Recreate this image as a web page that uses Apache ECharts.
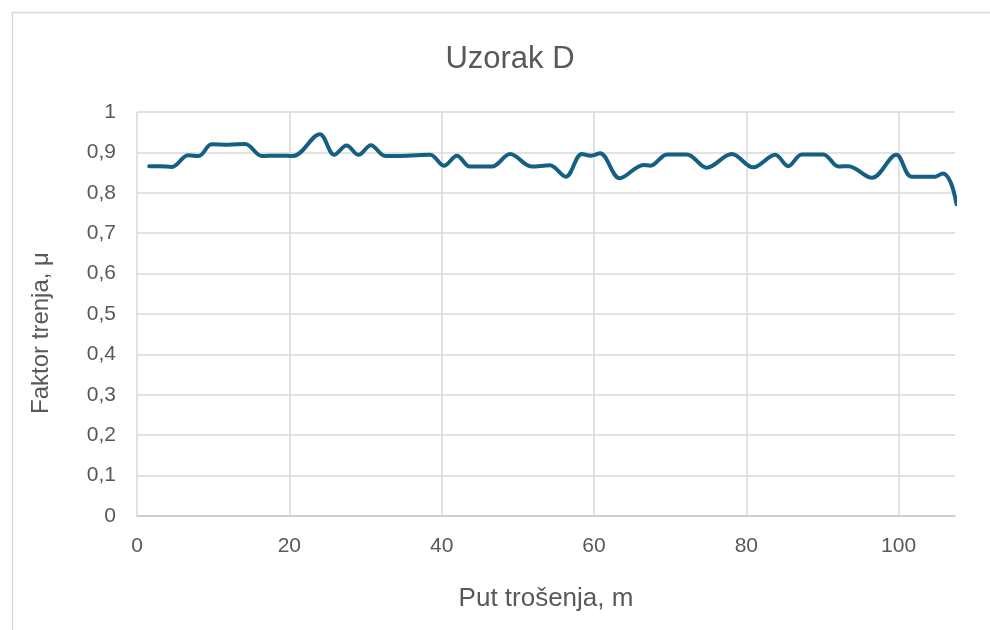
<!DOCTYPE html>
<html>
<head>
<meta charset="utf-8">
<script src="https://cdn.jsdelivr.net/npm/echarts@6/dist/echarts.min.js"></script>
<style>
  html, body { margin: 0; padding: 0; background: #ffffff; }
  #chart { width: 990px; height: 630px; }
</style>
</head>
<body>
<div id="chart"></div>
<script>
// Wear distance (m) and measured friction coefficient for sample D
const distance = [1.6, 3.0, 4.6, 6.7, 8.1, 9.8, 12.0, 14.2, 16.4, 18.5, 20.5, 24.0, 25.9, 27.5, 29.1,
  30.7, 32.6, 35.5, 38.5, 40.3, 42.0, 43.7, 46.6, 49.0, 51.8, 54.2, 56.3, 58.4, 59.6, 60.8, 63.4,
  66.5, 67.4, 69.6, 72.2, 74.8, 78.1, 80.9, 83.8, 85.5, 87.3, 90.1, 92.1, 93.4, 96.5, 99.7, 101.7,
  104.8, 105.8, 106.8, 107.6];
const friction = [0.866, 0.866, 0.864, 0.893, 0.891, 0.920, 0.919, 0.921, 0.891, 0.892, 0.891, 0.945, 0.894, 0.917, 0.894,
  0.918, 0.891, 0.892, 0.894, 0.867, 0.892, 0.865, 0.865, 0.896, 0.865, 0.868, 0.840, 0.896, 0.892, 0.898, 0.836,
  0.869, 0.867, 0.895, 0.895, 0.862, 0.896, 0.863, 0.894, 0.866, 0.895, 0.895, 0.865, 0.866, 0.837, 0.894, 0.840,
  0.840, 0.848, 0.827, 0.772];

const titleText = 'Uzorak D';
const xTitle = 'Put trošenja, m';
const yTitle = 'Faktor trenja, μ';

const FONT = '"Liberation Sans", Arial, sans-serif';
const TEXT = '#595959';
const GRID = '#d9d9d9';

const points = distance.map((d, i) => [d, friction[i]]);

const chart = echarts.init(document.getElementById('chart'), null, { renderer: 'canvas' });
chart.setOption({
  animation: false,
  backgroundColor: '#ffffff',
  title: {
    text: titleText,
    left: 505,
    top: 39,
    textAlign: 'center',
    textStyle: { fontFamily: FONT, fontSize: 31, fontWeight: 'normal', color: TEXT }
  },
  graphic: [{
    // chart-area frame
    type: 'rect',
    silent: true,
    shape: { x: 12.5, y: 12.5, width: 1000, height: 700 },
    style: { fill: 'none', stroke: GRID, lineWidth: 1.5 }
  }, {
    // vertical axis title
    type: 'text',
    silent: true,
    x: 41,
    y: 333,
    rotation: Math.PI / 2,
    style: {
      text: yTitle,
      fontFamily: FONT,
      fontSize: 24,
      fill: TEXT,
      align: 'center',
      verticalAlign: 'middle'
    }
  }],
  grid: { left: 137, right: 35, top: 112, bottom: 114, containLabel: false },
  xAxis: {
    type: 'value',
    min: 0,
    max: 107.4,
    interval: 20,
    name: xTitle,
    nameLocation: 'middle',
    nameGap: 70,
    nameTextStyle: { fontFamily: FONT, fontSize: 26, color: TEXT },
    axisLine: { show: true, lineStyle: { color: '#c8c8c8', width: 1.5 } },
    axisTick: { show: false },
    axisLabel: {
      fontFamily: FONT, fontSize: 21, color: TEXT, margin: 20,
      showMaxLabel: false
    },
    splitLine: { show: true, showMaxLine: false, lineStyle: { color: GRID, width: 1.5 } }
  },
  yAxis: {
    type: 'value',
    min: 0,
    max: 1,
    interval: 0.1,
    axisLine: { show: false },
    axisTick: { show: false },
    axisLabel: {
      fontFamily: FONT, fontSize: 21, color: TEXT, margin: 21,
      formatter: v => String(+v.toFixed(1)).replace('.', ',')
    },
    splitLine: { show: true, lineStyle: { color: GRID, width: 1.5 } }
  },
  series: [{
    type: 'line',
    data: points,
    smooth: 0.35,
    showSymbol: false,
    clip: true,
    lineStyle: { color: '#156082', width: 4, cap: 'round', join: 'round' }
  }]
});
</script>
</body>
</html>
